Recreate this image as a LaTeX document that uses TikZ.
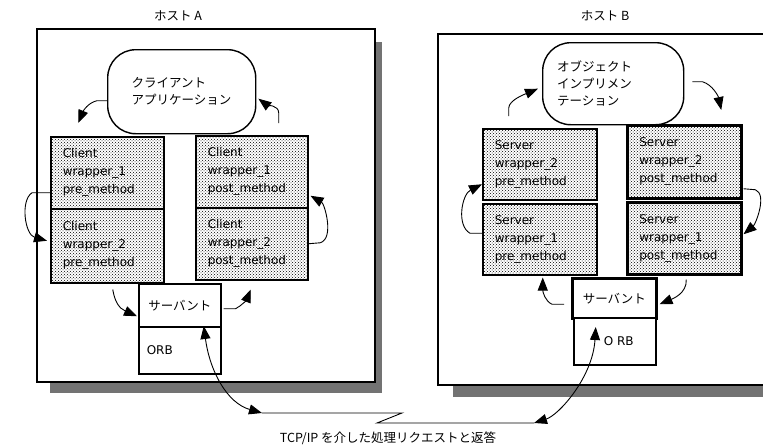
\documentclass[tikz,border=0pt]{standalone}
\usepackage{fontspec}
\setmainfont{DejaVu Sans}
\newfontfamily\jp{Noto Sans CJK JP}
\usetikzlibrary{arrows.meta,patterns,calc}
\begin{document}
\begin{tikzpicture}[x=1pt,y=-1pt,
 shadowfill/.style={fill=black!55, draw=none},
 hostframe/.style={draw, line width=1.6pt, fill=white},
 cloudbox/.style={draw, line width=1.4pt, fill=white, rounded corners=28pt, anchor=north west, font=\jp\fontsize{12.5}{17}\selectfont, align=left, inner sep=0pt},
 wbox/.style={draw, line width=1.5pt, pattern=crosshatch dots, pattern color=black, anchor=north west, inner xsep=12pt, inner ysep=0pt, align=left, font=\fontsize{12}{18}\selectfont},
 plainbox/.style={draw, line width=1.5pt, fill=white, anchor=north west, inner sep=0pt},
 arr/.style={-{Triangle[length=13pt,width=10pt]}, line width=0.9pt},
 darr/.style={{Triangle[length=13pt,width=10pt]}-{Triangle[length=13pt,width=10pt]}, line width=0.9pt},
 title/.style={font=\jp\fontsize{12.5}{15}\selectfont}
]
\useasboundingbox (0,0) rectangle (763,447);

% titles
\node[title] (tA) at (178,16) {ホスト A};
\node[title] (tBt) at (605,16) {ホスト B};

% host A
\fill[shadowfill] (50,42) rectangle (382,393);
\draw[hostframe] (37,29) rectangle (375,382);
% host B
\fill[shadowfill] (453,47) rectangle (790,397);
\draw[hostframe] (438,34) rectangle (785,385);

% host A content
\node[cloudbox, minimum width=148pt, minimum height=84pt, text width=100pt] (cA) at (107,49) {クライアント\\アプリケーション};
\node[wbox, text width=89pt, minimum width=113pt, minimum height=72pt] (a1pre) at (50,136) {Client\\wrapper\_1\\pre\_method};
\node[wbox, text width=89pt, minimum width=113pt, minimum height=74pt] (a2pre) at (50,208) {Client\\wrapper\_2\\pre\_method};
\node[wbox, text width=88pt, minimum width=112pt, minimum height=72pt] (a1post) at (195,135) {Client\\wrapper\_1\\post\_method};
\node[wbox, text width=88pt, minimum width=112pt, minimum height=72pt] (a2post) at (195,207) {Client\\wrapper\_2\\post\_method};
\node[plainbox, minimum width=82pt, minimum height=43pt, font=\jp\fontsize{12.5}{15}\selectfont] (sA) at (138,283) {サーバント};
\node[plainbox, minimum width=82pt, minimum height=47pt, text width=66pt, inner xsep=8pt, align=left, font=\fontsize{12}{14}\selectfont] (oA) at (138,326) {ORB};

% host B content
\node[cloudbox, minimum width=141pt, minimum height=82pt, text width=112pt] (cB) at (542,42) {オブジェクト\\インプリメン\\テーション};
\node[wbox, text width=90pt, minimum width=114pt, minimum height=71pt] (b2pre) at (482,128) {Server\\wrapper\_2\\pre\_method};
\node[wbox, text width=90pt, minimum width=114pt, minimum height=71pt] (b1pre) at (482,203) {Server\\wrapper\_1\\pre\_method};
\node[wbox, line width=2.5pt, text width=90pt, minimum width=114pt, minimum height=73pt] (b2post) at (626,124) {Server\\wrapper\_2\\post\_method};
\node[wbox, line width=2.5pt, text width=90pt, minimum width=114pt, minimum height=72pt] (b1post) at (626,201) {Server\\wrapper\_1\\post\_method};
\node[plainbox, line width=2.5pt, minimum width=84pt, minimum height=40pt, font=\jp\fontsize{12.5}{15}\selectfont] (sB) at (571,277) {サーバント};
\node[plainbox, minimum width=82pt, minimum height=47pt, font=\fontsize{12}{14}\selectfont] (oB) at (573,317) {\hspace*{8pt}O RB};

% arrows host A
\draw[arr] ($(cA.west)+(0,9)$) -- ++(-10,0) .. controls +(-9,2) and +(5,-12) .. ($(a1pre.north)+(-29,-13)$);
\draw[arr] ($(a1post.north)+(27,-12)$) -- ++(0,-10) .. controls +(0,-8) and +(8,6) .. ($(cA.east)+(2,7)$);
\draw[arr] ($(a1pre.west)+(0,20)$) -- ++(-18,0) .. controls +(-12,8) and +(-22,-6) .. ($(a2pre.west)+(-3,-5)$);
\draw[arr] (a2post.east) -- ++(12,-1) .. controls +(14,-5) and +(14,8) .. ($(a1post.east)+(2,24)$);
\draw[arr] ($(a2pre.south)+(5.5,6)$) .. controls +(2,12) and +(-18,-8) .. ($(sA.west)+(-1,11)$);
\draw[arr] ($(sA.east)+(2,3.5)$) -- ++(12,0) .. controls +(6,-3) and +(-4,10) .. ($(a2post.south)+(-1,9)$);

% network
\coordinate (zA) at (262,413);
\coordinate (z1) at (402,413);
\coordinate (z2) at (377,423);
\coordinate (zB) at (534,423);
\draw[line width=0.9pt] (zA) -- (z1) -- (z2) -- (zB);
\draw[darr] ($(oA.north)+(24,0)$) .. controls +(6,45) and +(-35,-10) .. (zA);
\draw[darr] ($(oB.north)+(-19,10)$) .. controls +(-3,50) and +(25,-8) .. (zB);
\node[font=\jp\fontsize{12.5}{15}\selectfont] (tcp) at (388,438) {TCP/IP を介した処理リクエストと返答};

% arrows host B
\draw[arr] ($(b2pre.north)+(-31,-12)$) -- ++(0,-8) .. controls +(0,-8) and +(-12,5) .. ($(cB.west)+(-4,5)$);
\draw[arr] ($(cB.east)+(8,-2)$) -- ++(10,0) .. controls +(10,3) and +(-3,-14) .. ($(b2post.north)+(37,-14)$);
\draw[arr] ($(b1pre.west)+(0,-6)$) -- ++(-12,0) .. controls +(-14,-8) and +(-20,10) .. ($(b2pre.west)+(0,20)$);
\draw[arr] ($(b2post.east)+(1,27)$) -- ++(12,1) .. controls +(12,5) and +(12,-10) .. ($(b1post.east)+(1,-4)$);
\draw[arr] ($(sB.west)+(-7,6)$) -- ++(-12,0) .. controls +(-7,-3) and +(0,14) .. ($(b1pre.south)+(3,2)$);
\draw[arr] ($(b1post.south)+(2,4)$) .. controls +(1,14) and +(12,-5) .. ($(sB.east)+(2,6)$);
\end{tikzpicture}
\end{document}
